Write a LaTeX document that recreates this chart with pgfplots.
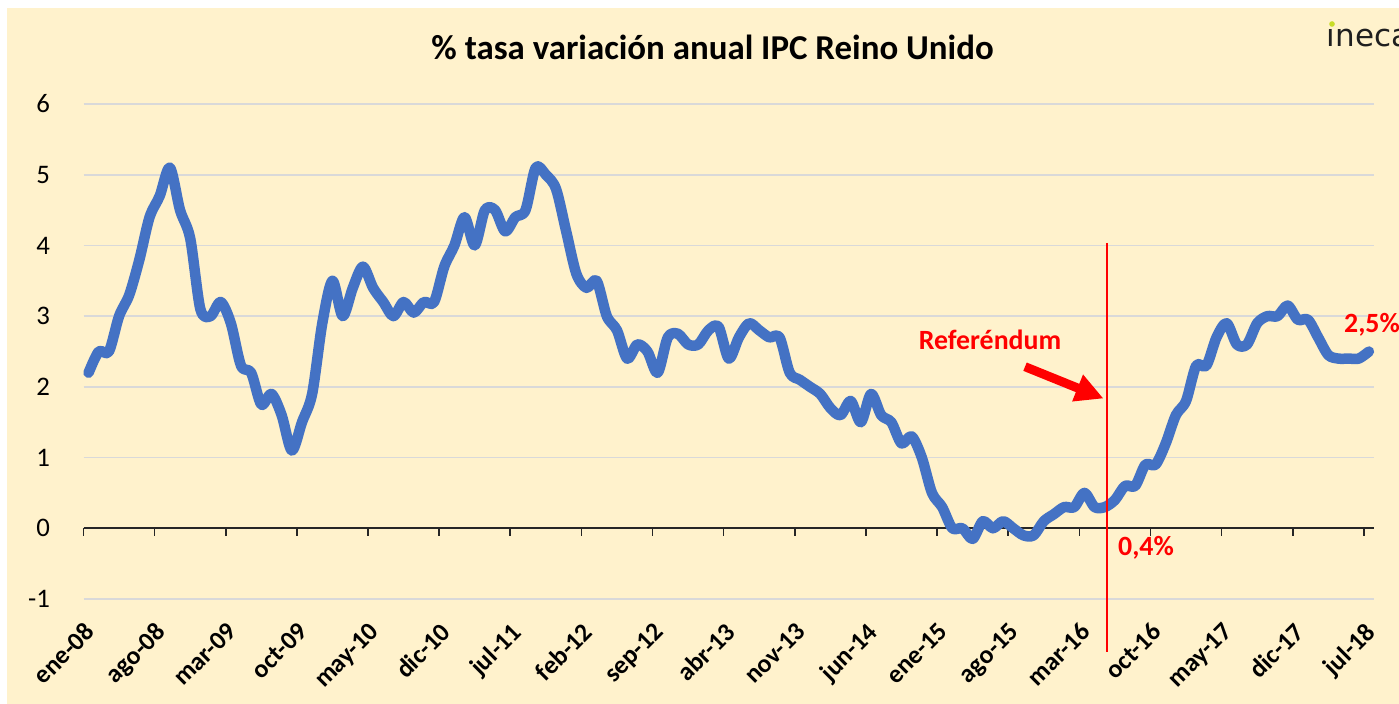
\documentclass[border=0pt]{standalone}
\usepackage{pgfplots}
\pgfplotsset{compat=1.18}
\usepackage{pgfplotstable}
\usepackage{fontspec}
\setmainfont{Carlito}
\newfontfamily\logofont{DejaVu Sans}
\usetikzlibrary{arrows.meta}

\definecolor{fondo}{HTML}{FFF2CC}
\definecolor{azul}{HTML}{4472C4}
\definecolor{rejilla}{HTML}{D9D9D9}
\definecolor{lima}{HTML}{C8DC28}

% IPC Reino Unido, tasa anual (%), ene-08 = 0 ... jul-18 = 126
\pgfplotstableread{
i v
0 2.2
1 2.5
2 2.5
3 3.0
4 3.3
5 3.8
6 4.4
7 4.7
8 5.1
9 4.5
10 4.1
11 3.1
12 3.0
13 3.2
14 2.9
15 2.3
16 2.2
17 1.75
18 1.9
19 1.6
20 1.1
21 1.5
22 1.9
23 2.9
24 3.5
25 3.0
26 3.4
27 3.7
28 3.4
29 3.2
30 3.0
31 3.2
32 3.05
33 3.2
34 3.2
35 3.7
36 4.0
37 4.4
38 4.0
39 4.5
40 4.5
41 4.2
42 4.4
43 4.5
44 5.1
45 5.0
46 4.8
47 4.2
48 3.6
49 3.4
50 3.5
51 3.0
52 2.8
53 2.4
54 2.6
55 2.5
56 2.2
57 2.7
58 2.75
59 2.6
60 2.6
61 2.8
62 2.85
63 2.4
64 2.7
65 2.9
66 2.8
67 2.7
68 2.7
69 2.2
70 2.1
71 2.0
72 1.9
73 1.7
74 1.6
75 1.8
76 1.5
77 1.9
78 1.6
79 1.5
80 1.2
81 1.3
82 1.0
83 0.5
84 0.3
85 0.0
86 0.0
87 -0.15
88 0.1
89 0.0
90 0.1
91 0.0
92 -0.1
93 -0.1
94 0.1
95 0.2
96 0.3
97 0.3
98 0.5
99 0.3
100 0.3
101 0.4
102 0.6
103 0.6
104 0.9
105 0.9
106 1.2
107 1.6
108 1.8
109 2.3
110 2.3
111 2.7
112 2.9
113 2.6
114 2.6
115 2.9
116 3.0
117 3.0
118 3.15
119 2.95
120 2.95
121 2.7
122 2.45
123 2.4
124 2.4
125 2.4
126 2.5
}\ipc

\def\pxu{0.2837pt}

\begin{document}
\begin{tikzpicture}
\begin{scope}[x=\pxu,y=-\pxu]
  \fill[white] (0,0) rectangle (1399,704);
  \fill[fondo] (7,8) rectangle (1399,704);
  \node[anchor=base, font=\bfseries\fontsize{9.9}{11}\selectfont] at (712.5,60)
    {\% tasa variación anual IPC Reino Unido};
  \node[anchor=base west, inner sep=0pt, text=black!88,
        font=\logofont\fontsize{8.8}{10}\selectfont] at (1326,47) {ıneca};
  \fill[lima] (1332,24) circle (2.8);
\end{scope}

\begin{axis}[
    at={({83.5*\pxu},{-599*\pxu})}, anchor=south west,
    scale only axis,
    width={1290.5*\pxu}, height={495*\pxu},
    xmin=-0.5, xmax=126.5,
    ymin=-1, ymax=6,
    clip=false,
    axis line style={draw=none},
    major tick style={draw=none},
    ytick={-1,0,1,2,3,4,5,6},
    ymajorgrids,
    grid style={rejilla, line width=1.8*\pxu},
    xtick={-0.5,6.5,13.5,20.5,27.5,34.5,41.5,48.5,55.5,62.5,69.5,76.5,83.5,90.5,97.5,104.5,111.5,118.5,125.5},
    xticklabels={ene-08,ago-08,mar-09,oct-09,may-10,dic-10,jul-11,feb-12,sep-12,abr-13,nov-13,jun-14,ene-15,ago-15,mar-16,oct-16,may-17,dic-17,jul-18},
    xticklabel shift=6pt,
    yticklabel shift=9.3pt,
    x tick label style={rotate=45, anchor=north east, inner sep=0pt,
        font=\bfseries\fontsize{7.3}{8}\selectfont},
    y tick label style={anchor=east, inner sep=0pt,
        font=\fontsize{7.6}{8}\selectfont},
    /pgf/number format/assume math mode=true,
  ]
  % eje en y = 0 con marcas
  \draw[black!85, line width=1.6*\pxu] (axis cs:-0.5,0) -- (axis cs:126.5,0);
  \pgfplotsinvokeforeach{-0.5,6.5,13.5,20.5,27.5,34.5,41.5,48.5,55.5,62.5,69.5,76.5,83.5,90.5,97.5,104.5,111.5,118.5,125.5}{
    \draw[black!85, line width=1.6*\pxu] (axis cs:#1,0) -- ++(0pt,{-8*\pxu});
  }
  \addplot[azul, line width=10.5*\pxu, smooth, line join=round, line cap=round]
    table[x=i, y=v] {\ipc};
\end{axis}

\begin{scope}[x=\pxu,y=-\pxu]
  \draw[red, line width=1.8*\pxu] (1106.6,243) -- (1106.6,652);
  \draw[red, line width=9*\pxu, -{Triangle[length=28*\pxu, width=27*\pxu]}]
    (1025,366.7) -- (1103.5,398.5);
  \node[anchor=base, text=red, font=\bfseries\fontsize{7.9}{9}\selectfont]
    at (990,350) {Referéndum};
  \node[anchor=base, text=red, font=\bfseries\fontsize{7.9}{9}\selectfont]
    at (1146,555) {0,4\%};
  \node[anchor=base, text=red, font=\bfseries\fontsize{7.9}{9}\selectfont]
    at (1372,333) {2,5\%};
  \pgfresetboundingbox
  \useasboundingbox (0,0) rectangle (1399,704);
\end{scope}
\end{tikzpicture}
\end{document}
